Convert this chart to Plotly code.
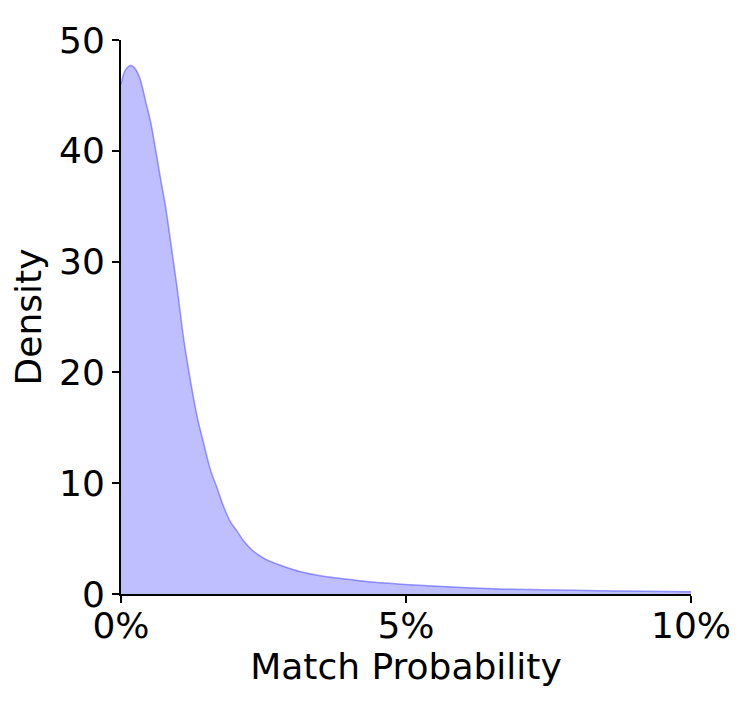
import plotly.graph_objects as go

# match probability (%)
prob_pct = [0, 0.08, 0.17, 0.25, 0.34, 0.43, 0.52, 0.60, 0.69, 0.78, 0.87, 0.99,
            1.10, 1.22, 1.34, 1.45, 1.57, 1.69, 1.80, 1.92, 2.04, 2.15, 2.27, 2.39,
            2.56, 2.74, 3.15, 3.55, 4.02, 4.45, 4.91, 5.9, 6.88, 8.4, 10.0]
density = [46.0, 47.3, 47.7, 47.4, 46.4, 44.5, 42.6, 40.3, 37.6, 35.0, 31.8, 27.4,
           23.0, 19.2, 15.9, 13.6, 11.2, 9.5, 7.9, 6.5, 5.65, 4.8, 4.1, 3.6,
           3.07, 2.7, 2.0, 1.6, 1.3, 1.05, 0.88, 0.62, 0.43, 0.3, 0.2]

x_ticks = [0, 0.05, 0.10]
y_ticks = [0, 10, 20, 30, 40, 50]

prob = [p / 100 for p in prob_pct]

fig = go.Figure()
fig.add_trace(go.Scatter(
    x=prob, y=density, mode="lines", fill="tozeroy",
    fillcolor="rgba(0,0,255,0.25)",
    line=dict(color="rgba(60,60,255,0.5)", width=1.5, shape="spline", smoothing=1.0),
    showlegend=False, hoverinfo="skip",
))

axis_common = dict(
    showline=True, linecolor="black", linewidth=1.8,
    ticks="outside", ticklen=7, tickwidth=1.8, tickcolor="black",
    showgrid=False, zeroline=False,
    tickfont=dict(size=36, color="black"),
)

fig.update_xaxes(
    range=[0, 0.10], tickvals=x_ticks, tickformat=".0%",
    ticklabelstandoff=-8,
    title=dict(text="Match Probability", font=dict(size=36, color="black"), standoff=6),
    **axis_common,
)
fig.update_yaxes(
    range=[0, 50], tickvals=y_ticks,
    title=dict(text="Density", font=dict(size=36, color="black"), standoff=14),
    **axis_common,
)

# the page body has an 8px margin, so the figure is shrunk and shifted to match
fig.update_layout(
    width=739, height=695,
    margin=dict(l=112.5, r=56, t=20.5, b=109),
    plot_bgcolor="white", paper_bgcolor="white",
    font=dict(family="DejaVu Sans", color="black"),
)

fig.write_html("out.html")
